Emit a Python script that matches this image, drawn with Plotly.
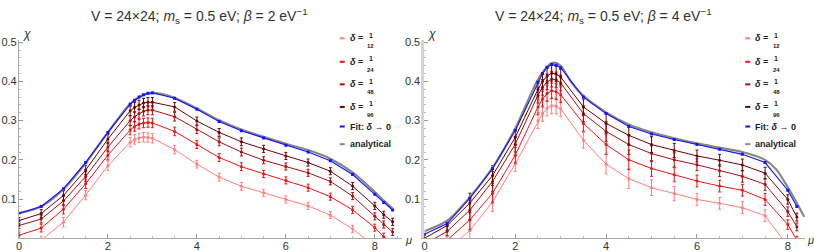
import plotly.graph_objects as go

W, H = 814, 252

# ---------------- data: left panel (beta = 2) ----------------
mu_L = [0, 0.5, 1, 1.5, 2, 2.5, 2.6, 2.7, 2.8, 2.9, 3.0, 3.5, 4, 4.5, 5, 5.5, 6, 6.5, 7, 7.5, 8, 8.2, 8.4]
d12_L = [-0.04, -0.005, 0.041, 0.11, 0.185, 0.245, 0.252, 0.256, 0.258, 0.257, 0.255, 0.226, 0.189, 0.156, 0.1325, 0.116, 0.099, 0.0825, 0.059, 0.024, -0.02, -0.04, -0.06]
d24_L = [0.0075, 0.026, 0.074, 0.139, 0.212, 0.276, 0.285, 0.291, 0.294, 0.295, 0.294, 0.2725, 0.239, 0.206, 0.1825, 0.164, 0.1475, 0.129, 0.106, 0.0725, 0.027, 0.004, -0.015]
d48_L = [0.0325, 0.049, 0.095, 0.1575, 0.2325, 0.300, 0.310, 0.318, 0.324, 0.327, 0.327, 0.310, 0.277, 0.246, 0.220, 0.199, 0.183, 0.167, 0.145, 0.1075, 0.056, 0.035, 0.016]
d96_L = [0.045, 0.063, 0.109, 0.174, 0.253, 0.325, 0.334, 0.340, 0.345, 0.347, 0.347, 0.335, 0.299, 0.270, 0.246, 0.228, 0.210, 0.193, 0.171, 0.133, 0.0825, 0.060, 0.042]
fit_L = [0.063, 0.081, 0.126, 0.193, 0.270, 0.342, 0.352, 0.360, 0.366, 0.370, 0.371, 0.357, 0.329, 0.2975, 0.274, 0.256, 0.2375, 0.220, 0.1975, 0.1625, 0.112, 0.091, 0.072]
err_L = [0.008, 0.010, 0.012, 0.012, 0.012, 0.012, 0.012, 0.012, 0.012, 0.012, 0.012, 0.011, 0.010, 0.010, 0.010, 0.009, 0.009, 0.009, 0.009, 0.009, 0.009, 0.009, 0.009]
mu_an_L = [0, 0.5, 1, 1.5, 2, 2.5, 2.75, 3, 3.25, 3.5, 4, 4.5, 5, 5.5, 6, 6.5, 7, 7.5, 8, 8.2, 8.4]
an_L = [0.064, 0.081, 0.125, 0.192, 0.270, 0.343, 0.363, 0.370, 0.367, 0.358, 0.331, 0.301, 0.277, 0.259, 0.241, 0.225, 0.203, 0.168, 0.118, 0.096, 0.076]

# ---------------- data: right panel (beta = 4) ----------------
mu_R = [0, 0.5, 1, 1.5, 2, 2.5, 2.6, 2.7, 2.8, 2.9, 3.0, 3.5, 4, 4.5, 5, 5.5, 6, 6.5, 7, 7.5, 8, 8.2]
d12_R = [-0.06, -0.03, 0.020, 0.093, 0.190, 0.300, 0.318, 0.332, 0.338, 0.337, 0.330, 0.250, 0.189, 0.152, 0.129, 0.114, 0.099, 0.089, 0.078, 0.0575, -0.02, -0.05]
d24_R = [-0.035, -0.005, 0.047, 0.115, 0.212, 0.335, 0.355, 0.369, 0.376, 0.374, 0.366, 0.293, 0.239, 0.200, 0.178, 0.162, 0.146, 0.133, 0.1225, 0.099, 0.035, -0.005]
d48_R = [-0.015, 0.0175, 0.072, 0.145, 0.240, 0.365, 0.385, 0.399, 0.406, 0.404, 0.396, 0.318, 0.2725, 0.239, 0.216, 0.200, 0.1875, 0.1725, 0.158, 0.1375, 0.068, 0.029]
d96_R = [0.000, 0.0325, 0.090, 0.160, 0.2575, 0.380, 0.400, 0.414, 0.421, 0.419, 0.411, 0.335, 0.293, 0.2625, 0.239, 0.224, 0.210, 0.199, 0.187, 0.166, 0.099, 0.054]
fit_R = [0.010, 0.0375, 0.102, 0.178, 0.275, 0.398, 0.420, 0.436, 0.443, 0.441, 0.435, 0.360, 0.318, 0.285, 0.266, 0.252, 0.239, 0.227, 0.214, 0.193, 0.1225, 0.081]
err_R = [0.010, 0.012, 0.025, 0.025, 0.020, 0.020, 0.020, 0.020, 0.020, 0.020, 0.020, 0.020, 0.025, 0.025, 0.020, 0.018, 0.015, 0.015, 0.015, 0.015, 0.012, 0.010]
mu_an_R = [0, 0.5, 1, 1.5, 2, 2.5, 2.75, 2.85, 3, 3.25, 3.5, 4, 4.5, 5, 5.5, 6, 6.5, 7, 7.5, 7.75, 8, 8.2, 8.36]
an_R = [0.018, 0.045, 0.105, 0.180, 0.280, 0.405, 0.443, 0.448, 0.440, 0.395, 0.363, 0.321, 0.290, 0.270, 0.255, 0.242, 0.231, 0.220, 0.200, 0.175, 0.130, 0.090, 0.055]

x_ticks = [0, 2, 4, 6, 8]
y_ticks = [0.1, 0.2, 0.3, 0.4, 0.5]
y_tick_text = ["0.1", "0.2", "0.3", "0.4", "0.5"]

series_names = ["1/12", "1/24", "1/48", "1/96"]
series_num = ["1", "1", "1", "1"]
series_den = ["12", "24", "48", "96"]
colors = ["rgb(255,125,125)", "rgb(240,20,20)", "rgb(170,15,15)", "rgb(115,0,0)"]
fit_color = "rgb(20,20,255)"
an_color = "rgb(135,135,135)"

titles = ["V = 24\u00d724; <i>m</i><sub>s</sub> = 0.5 eV; <i>\u03b2</i> = 2 eV<sup>\u22121</sup>",
          "V = 24\u00d724; <i>m</i><sub>s</sub> = 0.5 eV; <i>\u03b2</i> = 4 eV<sup>\u22121</sup>"]

FONT = "Liberation Sans, Arial, sans-serif"

fig = go.Figure()

panels = [
    (mu_L, [d12_L, d24_L, d48_L, d96_L], fit_L, err_L, mu_an_L, an_L, "x", "y"),
    (mu_R, [d12_R, d24_R, d48_R, d96_R], fit_R, err_R, mu_an_R, an_R, "x2", "y2"),
]

for mu, series, fit, err, mu_an, an, xa, ya in panels:
    for vals, col, nm in zip(series, colors, series_names):
        fig.add_trace(go.Scatter(
            x=mu, y=vals, mode="lines+markers", name="\u03b4 = " + nm,
            line=dict(color=col, width=1), marker=dict(color=col, size=3),
            error_y=dict(type="data", array=err, color=col, thickness=1, width=1.5),
            xaxis=xa, yaxis=ya, showlegend=False))
    fig.add_trace(go.Scatter(
        x=mu_an, y=an, mode="lines", name="analytical",
        line=dict(color=an_color, width=2.2, shape="spline", smoothing=0.8),
        xaxis=xa, yaxis=ya, showlegend=False))
    fig.add_trace(go.Scatter(
        x=mu, y=fit, mode="lines+markers", name="Fit",
        line=dict(color=fit_color, width=1.1), marker=dict(color=fit_color, size=3, symbol="square"),
        xaxis=xa, yaxis=ya, showlegend=False))


def px(xp):
    return xp / W


def py(yp):
    return 1 - yp / H


ydom = [py(239), py(37)]
common_x = dict(range=[0, 8.6], tickvals=x_ticks, ticks="inside", ticklen=4, tickcolor="#999",
                showline=True, linecolor="#aaa", linewidth=1, showgrid=False, zeroline=False,
                ticklabelstandoff=-2,
                tickfont=dict(family=FONT, size=11, color="#333"),
                minor=dict(dtick=0.5, ticks="inside", ticklen=2, tickcolor="#bbb"))
common_y = dict(range=[0, 0.505], tickvals=y_ticks, ticktext=y_tick_text, ticks="inside", ticklen=4,
                tickcolor="#999", showline=True, linecolor="#aaa", linewidth=1, showgrid=False,
                zeroline=False, tickfont=dict(family=FONT, size=11, color="#333"),
                ticklabelstandoff=-1,
                minor=dict(dtick=0.02, ticks="inside", ticklen=2, tickcolor="#bbb"))

fig.update_layout(
    width=W, height=H, margin=dict(l=0, r=0, t=0, b=0),
    paper_bgcolor="white", plot_bgcolor="white", showlegend=False,
    xaxis=dict(common_x, domain=[px(16), px(400)], anchor="y"),
    yaxis=dict(common_y, domain=ydom, anchor="x"),
    xaxis2=dict(common_x, domain=[px(423), px(805)], anchor="y2", range=[0, 8.38]),
    yaxis2=dict(common_y, domain=ydom, anchor="x2", linecolor="#d4d4d4", linewidth=3),
)

annotations = []
shapes = []
# titles
for tx, t in zip([197, 603], titles):
    annotations.append(dict(x=px(tx), y=py(12), xref="paper", yref="paper", text=t, showarrow=False,
                            font=dict(family=FONT, size=14, color="#333"), xanchor="center", yanchor="middle"))
# axis labels
for ax0, ax1 in [(16, 400), (423, 804)]:
    annotations.append(dict(x=px(ax0 + 2), y=py(31), xref="paper", yref="paper", text="<i>\u03c7</i>",
                            showarrow=False, font=dict(family=FONT, size=12, color="#333"),
                            xanchor="left", yanchor="middle"))
    annotations.append(dict(x=px(ax1 + 1), y=py(241), xref="paper", yref="paper", text="<i>\u03bc</i>",
                            showarrow=False, font=dict(family=FONT, size=11, color="#333"),
                            xanchor="left", yanchor="middle"))

# legends drawn as annotations + swatches
entry_y = [35, 59, 82, 105, 125, 143]
for lx in [338, 745]:
    for i in range(4):
        yy = entry_y[i]
        shapes.append(dict(type="line", xref="paper", yref="paper", x0=px(lx), x1=px(lx + 5),
                           y0=py(yy), y1=py(yy), line=dict(color=colors[i], width=2)))
        annotations.append(dict(x=px(lx + 8), y=py(yy), xref="paper", yref="paper",
                                text="<b><i>\u03b4</i> =</b>", showarrow=False,
                                font=dict(family=FONT, size=9, color="#222"), xanchor="left", yanchor="middle"))
        annotations.append(dict(x=px(lx + 31), y=py(yy - 3), xref="paper", yref="paper",
                                text="<b>" + series_num[i] + "</b>", showarrow=False,
                                font=dict(family=FONT, size=7, color="#222"), xanchor="center", yanchor="middle"))
        annotations.append(dict(x=px(lx + 31), y=py(yy + 8), xref="paper", yref="paper",
                                text="<b>" + series_den[i] + "</b>", showarrow=False,
                                font=dict(family=FONT, size=6, color="#222"), xanchor="center", yanchor="middle"))
    shapes.append(dict(type="line", xref="paper", yref="paper", x0=px(lx), x1=px(lx + 5),
                       y0=py(entry_y[4]), y1=py(entry_y[4]), line=dict(color=fit_color, width=2)))
    annotations.append(dict(x=px(lx + 8), y=py(entry_y[4]), xref="paper", yref="paper",
                            text="<b>Fit: <i>\u03b4</i> \u2192 0</b>", showarrow=False,
                            font=dict(family=FONT, size=9, color="#222"), xanchor="left", yanchor="middle"))
    shapes.append(dict(type="line", xref="paper", yref="paper", x0=px(lx), x1=px(lx + 5),
                       y0=py(entry_y[5]), y1=py(entry_y[5]), line=dict(color=an_color, width=2)))
    annotations.append(dict(x=px(lx + 8), y=py(entry_y[5]), xref="paper", yref="paper",
                            text="<b>analytical</b>", showarrow=False,
                            font=dict(family=FONT, size=9, color="#222"), xanchor="left", yanchor="middle"))

fig.update_layout(annotations=annotations, shapes=shapes)
fig.write_html("out.html", config={"displayModeBar": False},
               post_script="document.body.style.margin='0';document.body.style.overflow='hidden';")
